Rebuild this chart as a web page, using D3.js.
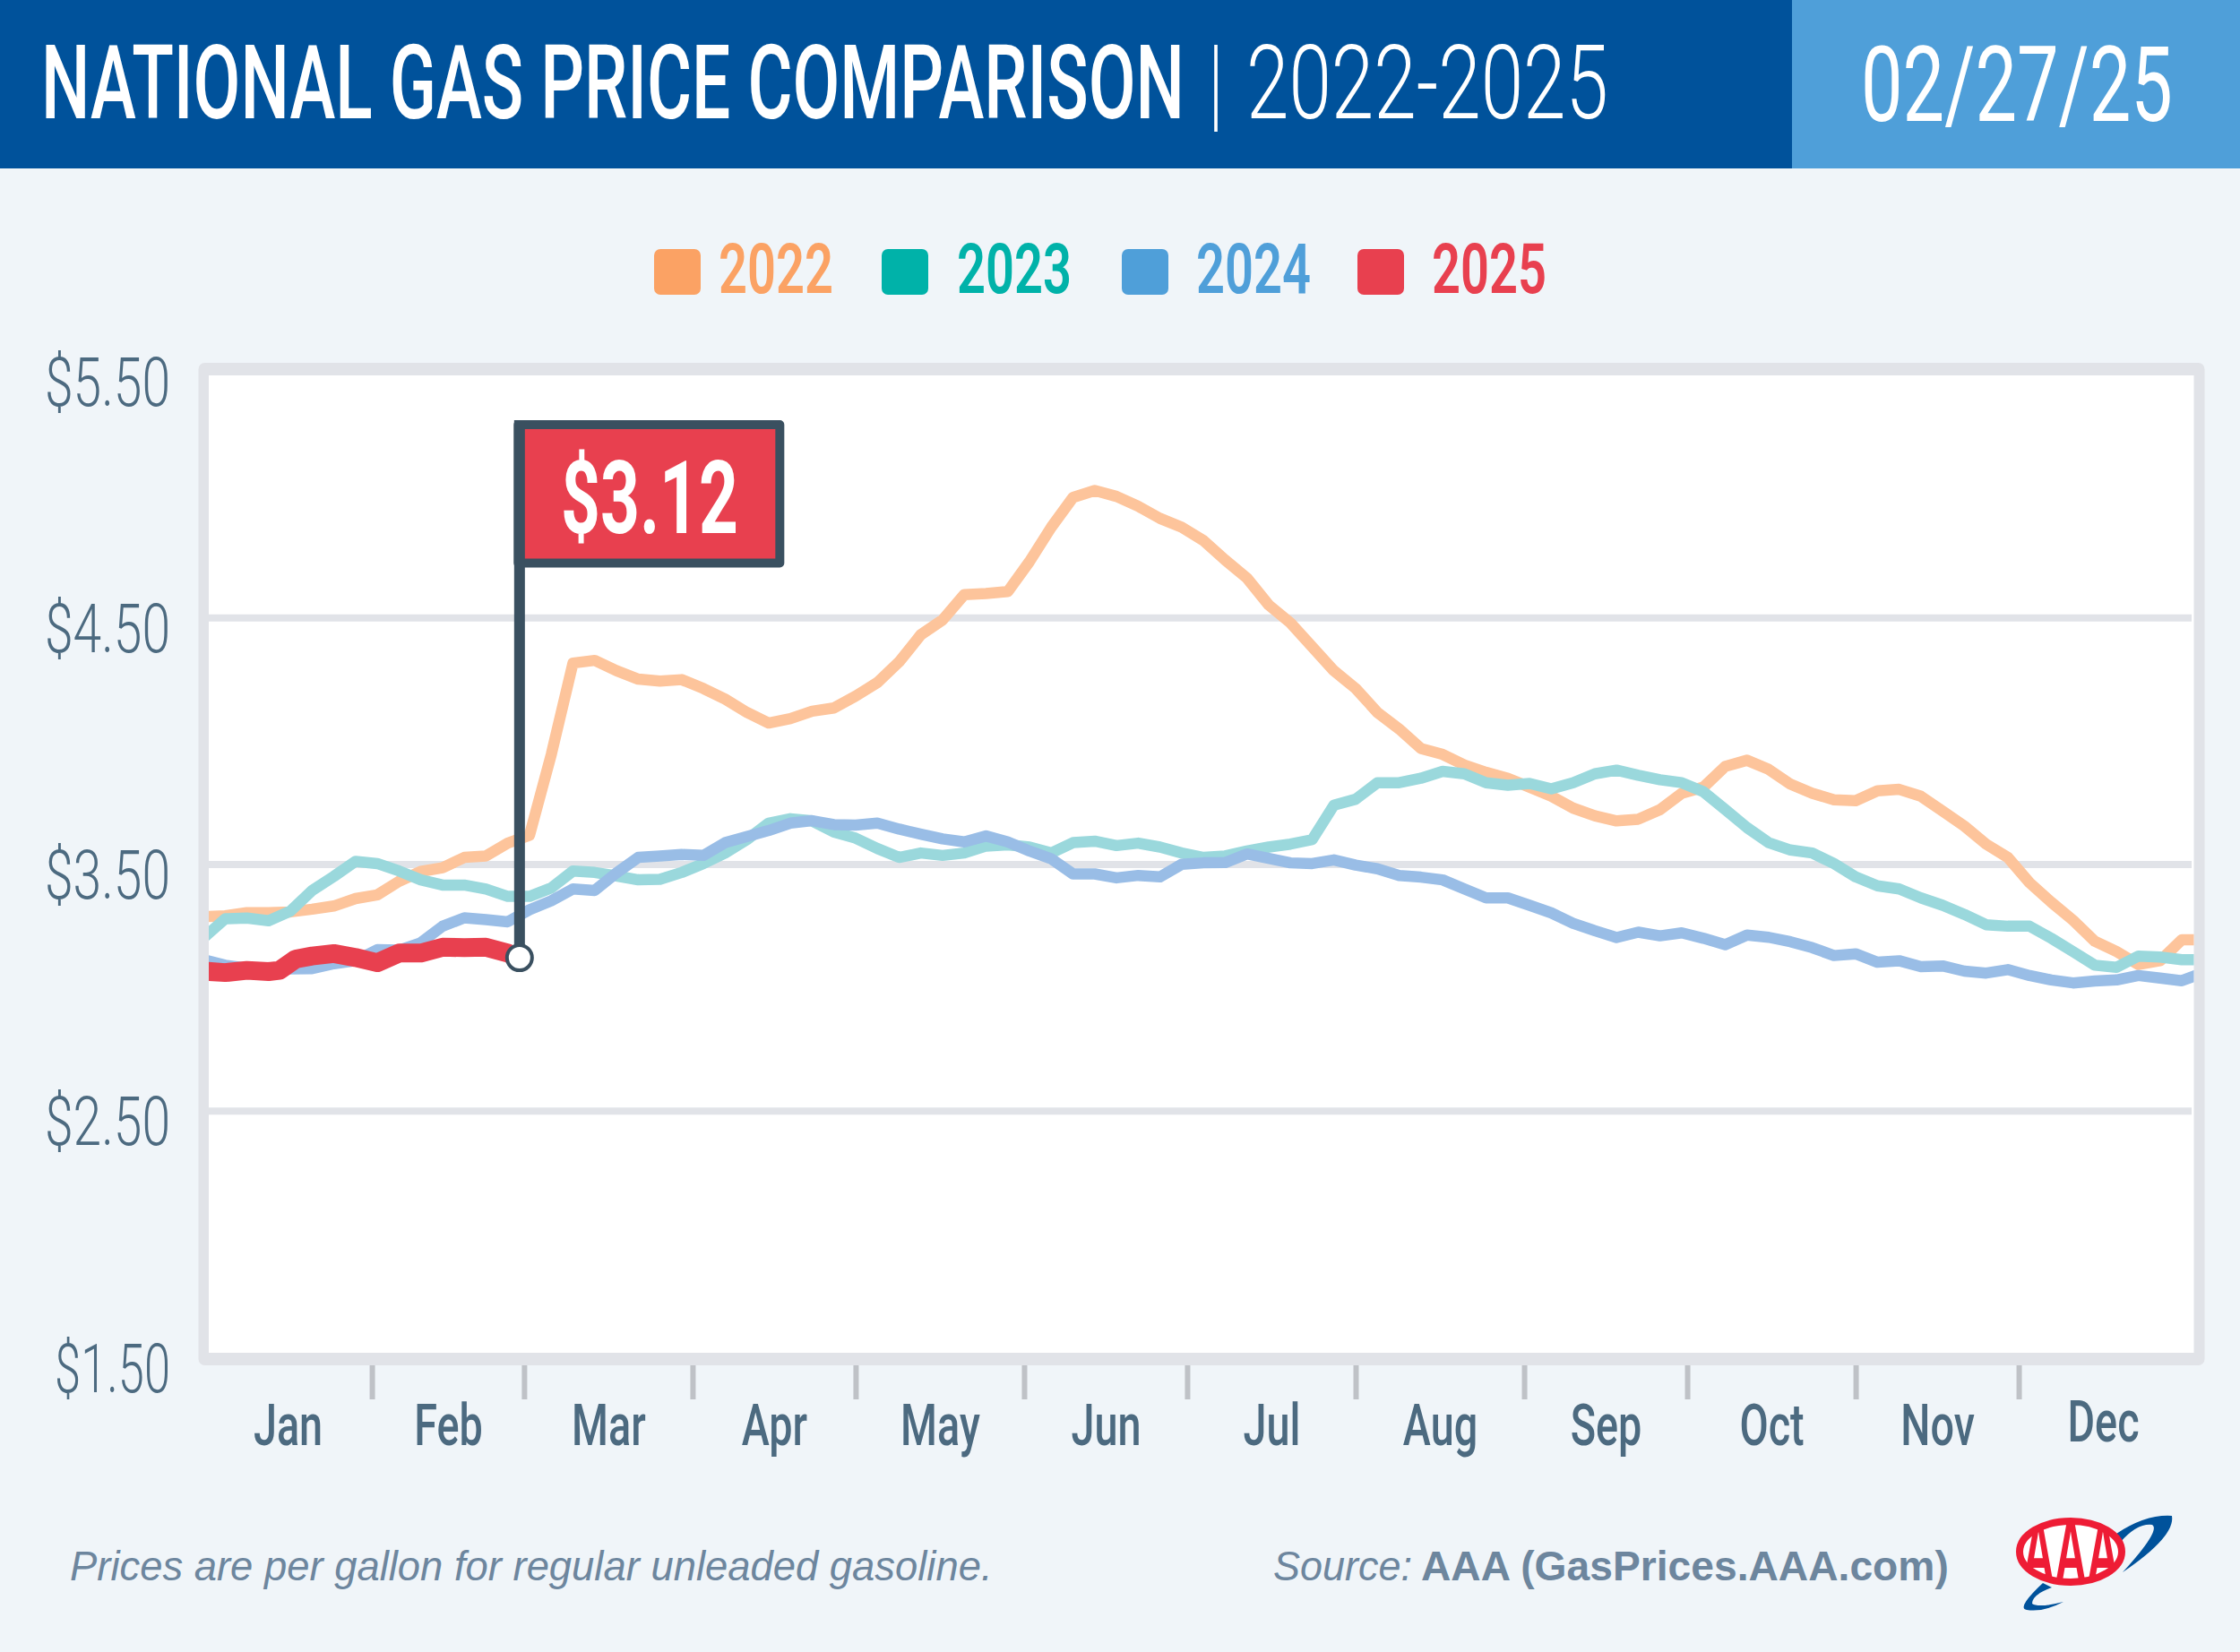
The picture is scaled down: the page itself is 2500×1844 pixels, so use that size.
<!DOCTYPE html>
<html>
<head>
<meta charset="utf-8">
<title>National Gas Price Comparison</title>
<script src="https://cdn.jsdelivr.net/npm/d3@7"></script>
<style>
  html, body { margin: 0; padding: 0; background: #f0f5f9; }
  svg { display: block; }
  .cond { font-family: Roboto, "Liberation Sans", sans-serif; }
  .foot { font-family: "Liberation Sans", Arial, sans-serif; fill: #6d869e; font-size: 46px; }
</style>
</head>
<body>
<div class="chart"></div>
<script>
// day of year for each sample
var days = [0, 4, 8, 12, 16, 20, 24, 28, 32, 36, 40, 44, 48, 52, 56, 60, 64, 68, 72,
  76, 80, 84, 88, 92, 96, 100, 104, 108, 112, 116, 120, 124, 128, 132, 136, 140, 144, 148,
  152, 156, 160, 164, 168, 172, 176, 180, 184, 188, 192, 196, 200, 204, 208, 212, 216, 220,
  224, 228, 232, 236, 240, 244, 248, 252, 256, 260, 264, 268, 272, 276, 280, 284, 288, 292, 296,
  300, 304, 308, 312, 316, 320, 324, 328, 332, 336, 340, 344, 348, 352, 356, 360, 364, 368];

var price2022 = [3.287, 3.29, 3.303, 3.303, 3.306, 3.317, 3.33, 3.36, 3.375, 3.43, 3.47, 3.485, 3.527, 3.533, 3.585, 3.617, 3.944, 4.315, 4.326,
  4.284, 4.25, 4.242, 4.248, 4.212, 4.169, 4.115, 4.072, 4.09, 4.12, 4.133, 4.181, 4.236, 4.32, 4.43, 4.49, 4.593, 4.597, 4.605,
  4.727, 4.866, 4.987, 5.015, 4.991, 4.951, 4.902, 4.866, 4.812, 4.733, 4.66, 4.551, 4.478, 4.381, 4.284, 4.212, 4.115, 4.048,
  3.969, 3.945, 3.902, 3.872, 3.848, 3.812, 3.775, 3.727, 3.696, 3.675, 3.682, 3.721, 3.787, 3.812, 3.896, 3.921, 3.884, 3.824, 3.787,
  3.761, 3.757, 3.797, 3.803, 3.775, 3.715, 3.654, 3.581, 3.527, 3.424, 3.345, 3.272, 3.187, 3.145, 3.093, 3.108, 3.193, 3.193];

var price2023 = [3.20, 3.278, 3.281, 3.27, 3.309, 3.393, 3.45, 3.511, 3.502, 3.472, 3.436, 3.415, 3.415, 3.399, 3.369, 3.369, 3.403, 3.472, 3.466,
  3.452, 3.436, 3.438, 3.466, 3.502, 3.545, 3.599, 3.666, 3.684, 3.675, 3.63, 3.605, 3.563, 3.527, 3.545, 3.535, 3.545, 3.573, 3.578,
  3.569, 3.545, 3.587, 3.593, 3.575, 3.585, 3.569, 3.545, 3.527, 3.533, 3.553, 3.569, 3.581, 3.599, 3.739, 3.763, 3.83, 3.83,
  3.848, 3.876, 3.866, 3.83, 3.82, 3.827, 3.805, 3.83, 3.866, 3.881, 3.86, 3.842, 3.83, 3.793, 3.721, 3.648, 3.587, 3.557, 3.545,
  3.502, 3.448, 3.412, 3.399, 3.363, 3.333, 3.296, 3.254, 3.248, 3.248, 3.199, 3.145, 3.09, 3.081, 3.127, 3.123, 3.112, 3.112];

var price2024 = [3.112, 3.09, 3.078, 3.069, 3.075, 3.076, 3.096, 3.108, 3.153, 3.151, 3.181, 3.248, 3.282, 3.275, 3.266, 3.315, 3.351, 3.399, 3.393,
  3.464, 3.527, 3.533, 3.539, 3.535, 3.587, 3.612, 3.636, 3.666, 3.676, 3.66, 3.658, 3.666, 3.642, 3.621, 3.602, 3.59, 3.614, 3.59,
  3.553, 3.521, 3.46, 3.46, 3.444, 3.454, 3.448, 3.499, 3.505, 3.506, 3.541, 3.523, 3.505, 3.502, 3.517, 3.496, 3.481, 3.454,
  3.447, 3.436, 3.399, 3.363, 3.363, 3.333, 3.302, 3.26, 3.23, 3.202, 3.224, 3.209, 3.221, 3.199, 3.173, 3.212, 3.203, 3.185, 3.161,
  3.129, 3.136, 3.102, 3.108, 3.084, 3.087, 3.066, 3.058, 3.072, 3.048, 3.03, 3.018, 3.026, 3.03, 3.048, 3.038, 3.027, 3.06];

var days2025 = [0, 4, 8, 12, 14, 17, 20, 24, 28, 32, 36, 40, 44, 48, 52, 56, 58];
var price2025 = [3.066, 3.06, 3.069, 3.064, 3.069, 3.115, 3.127, 3.137, 3.121, 3.10, 3.139, 3.139, 3.163, 3.161, 3.163, 3.139, 3.12];

var years = ["2022", "2023", "2024", "2025"];
var months = ["Jan", "Feb", "Mar", "Apr", "May", "Jun", "Jul", "Aug", "Sep", "Oct", "Nov", "Dec"];
var monthEnds = [31, 59, 90, 120, 151, 181, 212, 243, 273, 304, 334];
var monthMids = [15.5, 45, 74.5, 105, 135.5, 166, 196.5, 227.5, 258, 288.5, 319, 349.5];
var priceTicks = [1.5, 2.5, 3.5, 4.5, 5.5];

var svgWidth = 2500;
var svgHeight = 1844;

// layout of the plot frame
var frame = { left: 233, right: 2448.5, top: 419, bottom: 1510 };

var legendColors = ["#fba264", "#00b2a9", "#4f9fd9", "#e8404f"];
var lineColors = ["#fdc49b", "#9ad8dc", "#99bde6", "#e8404f"];
var legendSwatchX = [730, 984, 1252, 1515];
var legendLabelX = [802, 1068, 1335, 1598];

var axisColor = "#4c6a80";
var flagColor = "#3a5060";

var svg = d3.select(".chart")
  .append("svg")
  .attr("width", svgWidth)
  .attr("height", svgHeight);

var xScale = d3.scaleLinear().domain([0, 365]).range([227, 2441.1]);
var yScale = d3.scaleLinear().domain([1.5, 5.5]).range([1515, 414]);

// squeeze texts horizontally around their x, no condensed font is installed
function squeeze(sel, factor) {
  return sel.each(function(d) {
    var el = d3.select(this);
    var x = +el.attr("x") || 0;
    var f = typeof factor === "function" ? factor(d) : factor;
    el.attr("transform", `translate(${x}, 0) scale(${f}, 1) translate(${-x}, 0)`);
  });
}
// same, but to a target width
function fit(sel, width) {
  return sel.each(function() {
    squeeze(d3.select(this), width / this.getComputedTextLength());
  });
}

// page background
svg.append("rect").attr("width", svgWidth).attr("height", svgHeight).attr("fill", "#f0f5f9");

// header
svg.append("rect").attr("width", 2000).attr("height", 188).attr("fill", "#00529b");
svg.append("rect").attr("x", 2000).attr("width", 500).attr("height", 188).attr("fill", "#4f9fd9");

function headerText(str, x, y, width, size, weight) {
  var t = svg.append("text")
    .attr("class", "cond")
    .attr("x", x)
    .attr("y", y)
    .attr("fill", "#fff")
    .attr("font-size", size)
    .attr("font-weight", weight)
    .text(str);
  return fit(t, width);
}
headerText("NATIONAL GAS PRICE COMPARISON", 46, 132, 1276, 115, 500);
headerText("|", 1351, 132, 12, 115, 400);
headerText("2022-2025", 1391, 132, 404, 115, 300);
headerText("02/27/25", 2077, 135, 348, 116, 400);

// legend
var legend = svg.selectAll(".legend")
  .data(years)
  .enter()
  .append("g")
  .attr("class", "legend");

legend.append("rect")
  .attr("x", (d, i) => legendSwatchX[i])
  .attr("y", 278)
  .attr("width", 52)
  .attr("height", 51)
  .attr("rx", 7)
  .attr("fill", (d, i) => legendColors[i]);

fit(legend.append("text")
  .attr("class", "cond")
  .attr("x", (d, i) => legendLabelX[i])
  .attr("y", 327)
  .attr("font-size", 77)
  .attr("font-weight", 600)
  .attr("fill", (d, i) => legendColors[i])
  .text(d => d), 128);

// plot frame
svg.append("rect")
  .attr("x", 221.5)
  .attr("y", 405)
  .attr("width", 2239)
  .attr("height", 1119)
  .attr("rx", 7)
  .attr("fill", "#e1e3e8");
svg.append("rect")
  .attr("x", frame.left)
  .attr("y", frame.top)
  .attr("width", frame.right - frame.left)
  .attr("height", frame.bottom - frame.top)
  .attr("fill", "#fff");

svg.append("clipPath")
  .attr("id", "plot-clip")
  .append("rect")
  .attr("x", frame.left)
  .attr("y", frame.top)
  .attr("width", frame.right - frame.left)
  .attr("height", frame.bottom - frame.top);

// y axis, tick lines double as the grid
var leftAxis = d3.axisLeft(yScale)
  .tickValues(priceTicks)
  .tickFormat(d3.format("$.2f"))
  .tickSize(-2213)
  .tickPadding(43);

var yAxis = svg.append("g")
  .attr("transform", `translate(${frame.left}, 0)`)
  .call(leftAxis);

yAxis.select(".domain").remove();
yAxis.selectAll(".tick line")
  .attr("stroke", "#e1e3e8")
  .attr("stroke-width", 8)
  .attr("display", d => (d === 1.5 || d === 5.5) ? "none" : null);
squeeze(yAxis.selectAll(".tick text")
  .attr("class", "cond")
  .attr("font-size", 76)
  .attr("font-weight", 300)
  .attr("fill", axisColor)
  .attr("dy", "0")
  .attr("y", 38), d => d === 1.5 ? 0.69 : 0.75);

// x axis: month end ticks below the frame, month names in between
var tickAxis = svg.append("g")
  .attr("transform", "translate(0, 1524)")
  .call(d3.axisBottom(xScale).tickValues(monthEnds).tickFormat("").tickSize(38));
tickAxis.select(".domain").remove();
tickAxis.selectAll(".tick line").attr("stroke", "#bfc2c7").attr("stroke-width", 6);

var monthAxis = svg.append("g")
  .attr("transform", "translate(0, 1613)")
  .call(d3.axisBottom(xScale).tickValues(monthMids).tickFormat((d, i) => months[i]).tickSize(0).tickPadding(0));
monthAxis.select(".domain").remove();
squeeze(monthAxis.selectAll(".tick text")
  .attr("class", "cond")
  .attr("font-size", 65)
  .attr("font-weight", 500)
  .attr("fill", axisColor)
  .attr("dy", "0")
  .attr("y", (d, i) => i === 11 ? -4 : 0), 0.72);

// price lines
var line = d3.line()
  .x(d => xScale(d.day))
  .y(d => yScale(d.price));

function toPoints(dayList, priceList) {
  return dayList.map((d, i) => ({ day: d, price: priceList[i] }));
}

var series = [
  toPoints(days, price2022),
  toPoints(days, price2023),
  toPoints(days, price2024),
  toPoints(days2025, price2025)
];

svg.append("g")
  .attr("clip-path", "url(#plot-clip)")
  .selectAll("path")
  .data(series)
  .enter()
  .append("path")
  .attr("d", line)
  .attr("fill", "none")
  .attr("stroke", (d, i) => lineColors[i])
  .attr("stroke-width", (d, i) => i === 3 ? 21 : 12.5)
  .attr("stroke-linejoin", "round");

// flag on the latest price
var lastDay = days2025[days2025.length - 1];
var lastPrice = price2025[price2025.length - 1];
var flagX = xScale(lastDay) + 1;
var flagY = yScale(lastPrice);

svg.append("rect")
  .attr("x", flagX - 1.5)
  .attr("y", 474)
  .attr("width", 292)
  .attr("height", 154.5)
  .attr("fill", "#e8404f")
  .attr("stroke", flagColor)
  .attr("stroke-width", 10)
  .attr("stroke-linejoin", "round");

svg.append("line")
  .attr("x1", flagX)
  .attr("x2", flagX)
  .attr("y1", 469)
  .attr("y2", flagY)
  .attr("stroke", flagColor)
  .attr("stroke-width", 12);

svg.append("circle")
  .attr("cx", flagX)
  .attr("cy", flagY)
  .attr("r", 14)
  .attr("fill", "#fff")
  .attr("stroke", flagColor)
  .attr("stroke-width", 4);

fit(svg.append("text")
  .attr("class", "cond")
  .attr("x", 626)
  .attr("y", 595)
  .attr("font-size", 114)
  .attr("font-weight", 700)
  .attr("fill", "#fff")
  .text(d3.format("$.2f")(lastPrice)), 198);

// footer notes
fit(svg.append("text")
  .attr("class", "foot")
  .attr("x", 78)
  .attr("y", 1764)
  .attr("font-style", "italic")
  .text("Prices are per gallon for regular unleaded gasoline."), 1030);

fit(svg.append("text")
  .attr("class", "foot")
  .attr("x", 1421)
  .attr("y", 1764)
  .attr("font-style", "italic")
  .text("Source:"), 155);

fit(svg.append("text")
  .attr("class", "foot")
  .attr("x", 1586)
  .attr("y", 1764)
  .attr("font-weight", 700)
  .text("AAA (GasPrices.AAA.com)"), 589);

// AAA logo
var logo = svg.append("g");
logo.append("path")
  .attr("d", "M2362,1712 Q2395,1690 2424,1692 Q2428,1715 2369,1755 Q2412,1708 2402,1702 Q2385,1700 2366,1722 Z")
  .attr("fill", "#00529b");
logo.append("path")
  .attr("d", "M2280,1767 Q2250,1795 2262,1797 Q2280,1800 2303,1788 Q2275,1795 2268,1790 Q2268,1780 2290,1772 Z")
  .attr("fill", "#00529b");
logo.append("clipPath")
  .attr("id", "logo-clip")
  .append("ellipse")
  .attr("cx", 2311)
  .attr("cy", 1732)
  .attr("rx", 60)
  .attr("ry", 37);
logo.append("ellipse")
  .attr("cx", 2311)
  .attr("cy", 1732)
  .attr("rx", 57)
  .attr("ry", 34)
  .attr("fill", "#fff")
  .attr("stroke", "#ee1c35")
  .attr("stroke-width", 8);
fit(logo.append("g")
  .attr("clip-path", "url(#logo-clip)")
  .append("text")
  .attr("x", 2257)
  .attr("y", 1768)
  .attr("font-family", "Liberation Sans")
  .attr("font-size", 100)
  .attr("font-weight", 700)
  .attr("fill", "#ee1c35")
  .text("AAA"), 108);
</script>
</body>
</html>
